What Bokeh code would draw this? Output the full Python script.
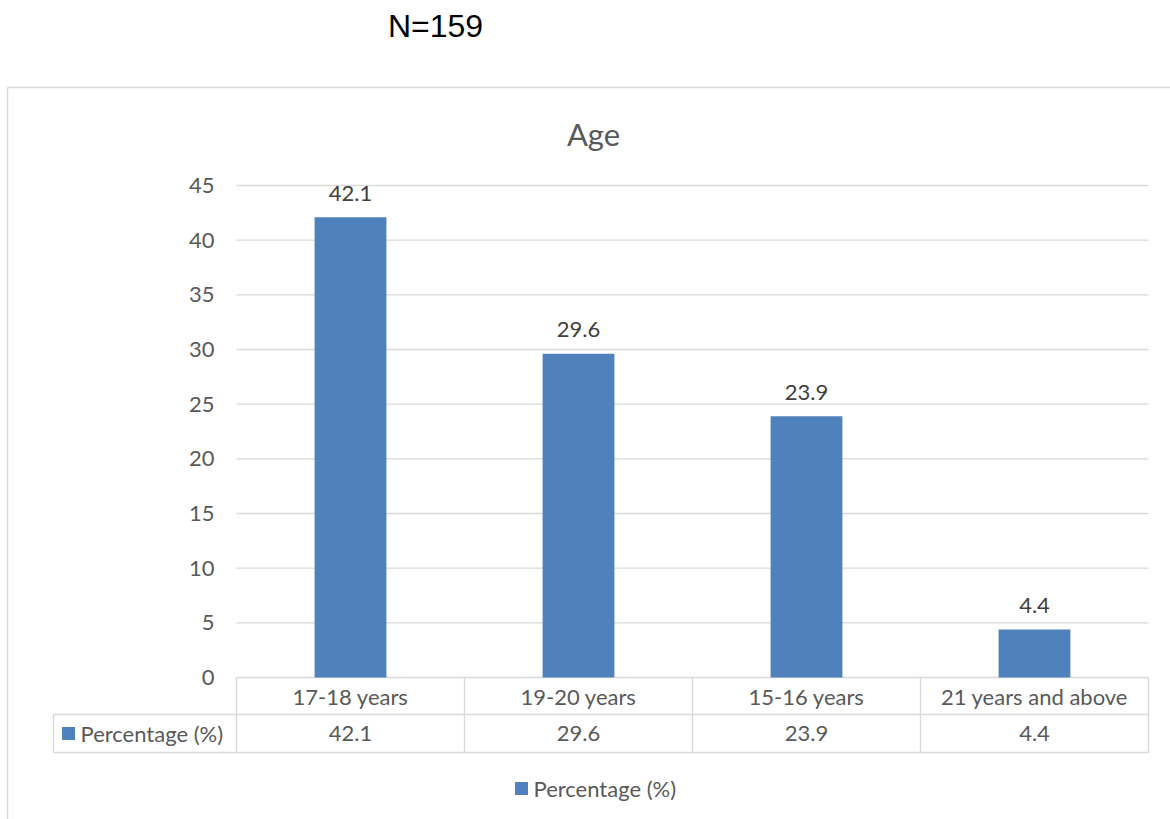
from bokeh.plotting import figure
from bokeh.models import Range1d
from bokeh.core.properties import value
from bokeh.embed import file_html
from bokeh.resources import INLINE

# ---- data ----
categories = ["17-18 years", "19-20 years", "15-16 years", "21 years and above"]
percentages = [42.1, 29.6, 23.9, 4.4]
y_ticks = [0, 5, 10, 15, 20, 25, 30, 35, 40, 45]
series_name = "Percentage (%)"
title_text = "Age"
note_text = "N=159"

# ---- layout (page pixels -> data units) ----
W, H = 1170, 819
PAGE_OFF = 0
ORIGIN_PX_X, ORIGIN_PX_Y = 236, 677          # page position of (0, 0)
PX_X = 228.0                                  # pixels per category column
PX_Y = (677 - 185) / 45.0                     # pixels per y unit

def dx(px):
    return (px - ORIGIN_PX_X) / PX_X

def dy(py):
    return (ORIGIN_PX_Y - py) / PX_Y

x_start, x_end = dx(PAGE_OFF), dx(PAGE_OFF + W)
y_start, y_end = dy(PAGE_OFF + H), dy(PAGE_OFF)

FONT = value("Lato")
GRID = "#d9d9d9"
TXT = "#595959"
BAR = "#4f81bd"
FS = "22px"

p = figure(width=W, height=H, x_range=Range1d(x_start, x_end), y_range=Range1d(y_start, y_end),
           x_axis_location=None, y_axis_location=None, toolbar_location=None,
           output_backend="svg", min_border=0)
p.grid.visible = False
p.outline_line_color = None
p.background_fill_color = "white"
p.border_fill_color = "white"

n = len(categories)
xs = [i + 0.5 for i in range(n)]

# frame border of chart area
top_border = dy(87)
p.segment(x0=[dx(7)], x1=[x_end], y0=[top_border], y1=[top_border], line_color=GRID, line_width=1.5)
p.segment(x0=[dx(7)], x1=[dx(7)], y0=[top_border], y1=[y_start], line_color=GRID, line_width=1.5)

# gridlines
p.segment(x0=[0] * len(y_ticks), x1=[n] * len(y_ticks), y0=y_ticks, y1=y_ticks,
          line_color=GRID, line_width=1.4)

# bars
p.vbar(x=xs, top=percentages, bottom=0, width=0.315, fill_color=BAR, line_color=None)

# data labels
p.text(x=xs, y=percentages, text=[f"{v:.1f}" for v in percentages], y_offset=-24,
       text_align="center", text_baseline="middle", text_font=FONT, text_font_size=FS,
       text_color="#404040")

# y tick labels
p.text(x=[dx(214)] * len(y_ticks), y=y_ticks, text=[str(t) for t in y_ticks],
       text_align="right", text_baseline="middle", text_font=FONT, text_font_size=FS, text_color=TXT)

# data table
row1 = dy(714)
row2 = dy(752)
left = dx(53)
p.segment(x0=[left, left], x1=[n, n], y0=[row1, row2], y1=[row1, row2], line_color=GRID, line_width=1.4)
p.segment(x0=list(range(n + 1)), x1=list(range(n + 1)), y0=[0] * (n + 1), y1=[row2] * (n + 1),
          line_color=GRID, line_width=1.4)
p.segment(x0=[left], x1=[left], y0=[row1], y1=[row2], line_color=GRID, line_width=1.4)

p.text(x=xs, y=[row1 / 2] * n, text=categories, text_align="center", text_baseline="middle",
       text_font=FONT, text_font_size=FS, text_color=TXT)
p.text(x=xs, y=[(row1 + row2) / 2] * n, text=[f"{v:.1f}" for v in percentages],
       text_align="center", text_baseline="middle", text_font=FONT, text_font_size=FS, text_color=TXT)
p.scatter(x=[dx(68)], y=[(row1 + row2) / 2], marker="square", size=13, fill_color=BAR, line_color=None)
p.text(x=[dx(80)], y=[(row1 + row2) / 2], text=[series_name], text_align="left", text_baseline="middle",
       text_font=FONT, text_font_size=FS, text_color=TXT)

# legend
leg_y = dy(788)
p.scatter(x=[dx(521)], y=[leg_y], marker="square", size=13, fill_color=BAR, line_color=None)
p.text(x=[dx(533)], y=[leg_y], text=[series_name], text_align="left", text_baseline="middle",
       text_font=FONT, text_font_size=FS, text_color=TXT)

# title
p.text(x=[dx(593)], y=[dy(133)], text=[title_text], text_align="center", text_baseline="middle",
       text_font=FONT, text_font_size="31px", text_color=TXT)

# note above chart
p.text(x=[dx(435)], y=[dy(25)], text=[note_text], text_align="center", text_baseline="middle",
       text_font=value("Liberation Sans"), text_font_size="32px", text_color="black")

open("out.html", "w").write(file_html(p, INLINE))
